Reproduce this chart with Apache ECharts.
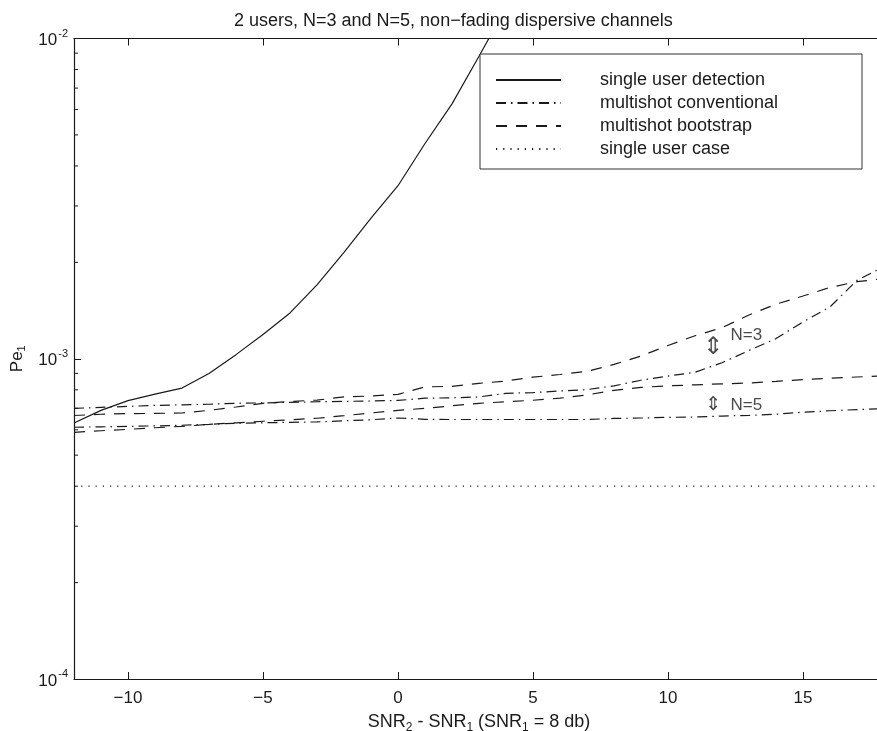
<!DOCTYPE html>
<html><head><meta charset="utf-8">
<script src="https://cdn.jsdelivr.net/npm/echarts@6/dist/echarts.min.js"></script>
<style>html,body{margin:0;padding:0;background:#fff}#c{width:877px;height:731px}</style>
</head><body><div id="c"></div>
<script>
// ---- data ----
const xValues = [-12,-11,-10,-9,-8,-7,-6,-5,-4,-3,-2,-1,0,1,2,3,4,5,6,7,8,9,10,11,12,13,14,15,16,17,18];
const xSingleDet = [-12,-11,-10,-9,-8,-7,-6,-5,-4,-3,-2,-1,0,1,2,3,4];
const singleUserDetection = [6.3e-4,6.9e-4,7.4e-4,7.75e-4,8.1e-4,9.0e-4,1.03e-3,1.19e-3,1.39e-3,1.70e-3,2.15e-3,2.75e-3,3.47e-3,4.7e-3,6.25e-3,8.8e-3,1.25e-2];
const conventionalN3 = [7.00e-4,7.05e-4,7.10e-4,7.15e-4,7.18e-4,7.21e-4,7.26e-4,7.28e-4,7.31e-4,7.34e-4,7.36e-4,7.38e-4,7.41e-4,7.53e-4,7.55e-4,7.60e-4,7.80e-4,7.84e-4,7.93e-4,8.01e-4,8.23e-4,8.57e-4,8.83e-4,9.07e-4,9.72e-4,1.061e-3,1.156e-3,1.303e-3,1.452e-3,1.758e-3,1.94e-3];
const bootstrapN3 = [6.65e-4,6.71e-4,6.74e-4,6.75e-4,6.77e-4,6.90e-4,7.07e-4,7.26e-4,7.35e-4,7.43e-4,7.60e-4,7.65e-4,7.74e-4,8.17e-4,8.20e-4,8.38e-4,8.52e-4,8.76e-4,8.93e-4,9.13e-4,9.60e-4,1.02e-3,1.10e-3,1.18e-3,1.25e-3,1.37e-3,1.48e-3,1.57e-3,1.67e-3,1.74e-3,1.78e-3];
const conventionalN5 = [6.11e-4,6.13e-4,6.15e-4,6.17e-4,6.20e-4,6.24e-4,6.29e-4,6.31e-4,6.33e-4,6.35e-4,6.40e-4,6.45e-4,6.53e-4,6.47e-4,6.46e-4,6.46e-4,6.46e-4,6.46e-4,6.46e-4,6.46e-4,6.51e-4,6.53e-4,6.56e-4,6.58e-4,6.62e-4,6.66e-4,6.71e-4,6.81e-4,6.88e-4,6.94e-4,6.99e-4];
const bootstrapN5 = [5.89e-4,5.96e-4,6.02e-4,6.09e-4,6.15e-4,6.24e-4,6.31e-4,6.38e-4,6.45e-4,6.52e-4,6.64e-4,6.77e-4,6.90e-4,7.00e-4,7.13e-4,7.26e-4,7.34e-4,7.42e-4,7.53e-4,7.71e-4,7.97e-4,8.14e-4,8.23e-4,8.29e-4,8.35e-4,8.40e-4,8.50e-4,8.61e-4,8.69e-4,8.77e-4,8.85e-4];
const singleUserCase = [4e-4,4e-4,4e-4,4e-4,4e-4,4e-4,4e-4,4e-4,4e-4,4e-4,4e-4,4e-4,4e-4,4e-4,4e-4,4e-4,4e-4,4e-4,4e-4,4e-4,4e-4,4e-4,4e-4,4e-4,4e-4,4e-4,4e-4,4e-4,4e-4,4e-4,4e-4];
const xTicks = [-10,-5,0,5,10,15];
const yMinorTicks = [2e-4,3e-4,4e-4,5e-4,6e-4,7e-4,8e-4,9e-4,2e-3,3e-3,4e-3,5e-3,6e-3,7e-3,8e-3,9e-3];
const legendNames = ['single user detection','multishot conventional','multishot bootstrap','single user case'];
const annotText = ['N=3','N=5'];
const annotTextX = [12.9,12.9];
const annotTextY = [1.184e-3,7.16e-4];
const arrowX = [11.67,11.67];
const arrowY = [1.086e-3,7.18e-4];
const arrowSize = [24,19];
const X_MIN = -12, X_MAX = 18, Y_MIN = 1e-4, Y_MAX = 1e-2;

// ---- chart ----
const FONT = 'Liberation Sans, Arial, Helvetica, sans-serif';
const INK = '#1a1a1a';
const zip = (xs, ys) => xs.map((x, i) => [x, ys[i]]);
const lineSeries = (name, xs, ys, type) => ({
  name, type: 'line', data: zip(xs, ys), symbol: 'none', smooth: false,
  clip: true, silent: true,
  lineStyle: { color: INK, width: 1.2, type },
  itemStyle: { color: INK }
});
const dashDot = [10, 5, 1.5, 5];
const dashed = [11, 9];
const dotted = [1.2, 6];

const chart = echarts.init(document.getElementById('c'), null, { renderer: 'canvas' });
chart.setOption({
  animation: false,
  backgroundColor: '#fff',
  textStyle: { fontFamily: FONT, color: INK },
  title: {
    text: '2 users, N=3 and N=5, non\u2212fading dispersive channels',
    left: 229, top: 7,
    textStyle: { fontFamily: FONT, fontSize: 18, fontWeight: 'normal', color: INK }
  },
  grid: { left: 74, width: 810, top: 38.5, bottom: 52, containLabel: false, outerBoundsMode: 'none' },
  legend: {
    data: legendNames, orient: 'vertical', left: 480, top: 54,
    itemWidth: 65, itemHeight: 14, itemGap: 5,
    padding: [17, 0, 11, 15],
    borderColor: '#333', borderWidth: 1, backgroundColor: '#fff',
    selectedMode: false,
    itemStyle: { color: 'rgba(0,0,0,0)', borderWidth: 0, opacity: 0 },
    formatter: name => '{t|' + name + '}',
    textStyle: { fontFamily: FONT, fontSize: 18, color: INK,
      rich: { t: { fontFamily: FONT, fontSize: 18, color: INK, width: 262, lineHeight: 18, padding: [0, 0, 0, 34] } } }
  },
  xAxis: [{
    type: 'value', min: X_MIN, max: X_MAX, position: 'bottom',
    name: 'SNR{s|2} - SNR{s|1} (SNR{s|1} = 8 db)',
    nameLocation: 'middle', nameGap: 32,
    nameTextStyle: { fontFamily: FONT, fontSize: 18, color: INK,
      rich: { s: { fontSize: 12, padding: [11, 0, 0, 0], fontFamily: FONT, color: INK } } },
    axisLine: { show: true, onZero: false, lineStyle: { color: INK, width: 1.2 } },
    axisTick: { show: true, inside: true, length: 7, customValues: xTicks, lineStyle: { color: INK } },
    axisLabel: { show: true, customValues: xTicks, margin: 11, fontSize: 17, fontFamily: FONT, color: INK,
      formatter: v => String(v).replace('-', '\u2212') },
    splitLine: { show: false }
  }, {
    type: 'value', min: X_MIN, max: X_MAX, position: 'top',
    axisLine: { show: true, onZero: false, lineStyle: { color: INK, width: 1.2 } },
    axisTick: { show: true, inside: true, length: 7, customValues: xTicks, lineStyle: { color: INK } },
    axisLabel: { show: false },
    splitLine: { show: false }
  }],
  yAxis: [{
    type: 'log', logBase: 10, min: Y_MIN, max: Y_MAX, position: 'left',
    name: 'Pe{s|1}', nameLocation: 'middle', nameGap: 45, nameRotate: 90,
    nameTextStyle: { fontFamily: FONT, fontSize: 17, color: INK,
      rich: { s: { fontSize: 11, padding: [10, 0, 0, 0], fontFamily: FONT, color: INK } } },
    axisLine: { show: true, onZero: false, lineStyle: { color: INK, width: 1.2 } },
    axisTick: { show: true, inside: true, length: 7, lineStyle: { color: INK } },
    axisLabel: { show: true, margin: 6, fontFamily: FONT, color: INK,
      formatter: v => '{b|10}{s|' + Math.round(Math.log10(v)) + '}',
      rich: { b: { fontSize: 17, fontFamily: FONT, color: INK, padding: [4, 0, 0, 0] },
              s: { fontSize: 11, fontFamily: FONT, color: INK, padding: [0, 0, 10, 1] } } },
    splitLine: { show: false }
  }, {
    type: 'log', logBase: 10, min: Y_MIN, max: Y_MAX, position: 'right',
    axisLine: { show: true, onZero: false, lineStyle: { color: INK, width: 1.2 } },
    axisTick: { show: true, inside: true, length: 7, lineStyle: { color: INK } },
    axisLabel: { show: false },
    splitLine: { show: false }
  }],
  series: [
    lineSeries(legendNames[0], xSingleDet, singleUserDetection, 'solid'),
    lineSeries(legendNames[1], xValues, conventionalN3, dashDot),
    lineSeries(legendNames[1], xValues, conventionalN5, dashDot),
    lineSeries(legendNames[2], xValues, bootstrapN3, dashed),
    lineSeries(legendNames[2], xValues, bootstrapN5, dashed),
    lineSeries(legendNames[3], xValues, singleUserCase, dotted),
    {
      name: 'minorTicks', type: 'custom', silent: true, clip: false,
      data: yMinorTicks.map(v => [X_MIN, v]),
      renderItem: (params, api) => {
        const p = api.coord([api.value(0), api.value(1)]);
        return { type: 'line', shape: { x1: p[0], y1: p[1], x2: p[0] + 4, y2: p[1] },
          style: { stroke: INK, lineWidth: 1 } };
      }
    },
    {
      name: 'arrows', type: 'scatter', symbol: 'circle', symbolSize: 1, silent: true,
      itemStyle: { color: 'rgba(0,0,0,0)' },
      data: arrowX.map((x, i) => ({ value: [x, arrowY[i]],
        label: { show: true, position: 'inside', formatter: '\u21D5',
          fontSize: arrowSize[i], fontFamily: 'DejaVu Sans', color: INK } }))
    },
    {
      name: 'annotations', type: 'scatter', symbol: 'circle', symbolSize: 1, silent: true,
      itemStyle: { color: 'rgba(0,0,0,0)' },
      data: annotTextX.map((x, i) => ({ value: [x, annotTextY[i]],
        label: { show: true, position: 'inside', formatter: annotText[i],
          fontSize: 17, fontFamily: FONT, color: INK } }))
    }
  ]
});
</script>
</body></html>
